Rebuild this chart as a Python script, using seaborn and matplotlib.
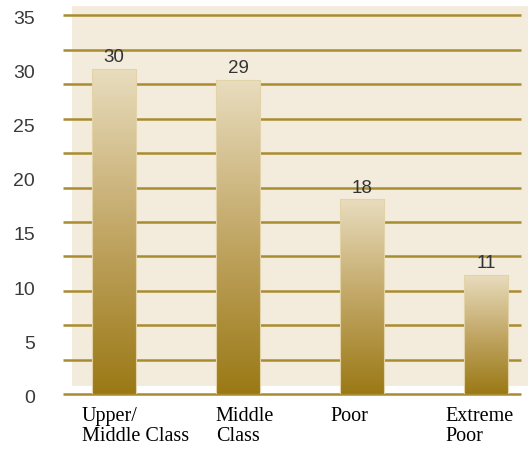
import numpy as np
import pandas as pd
import matplotlib
matplotlib.use("Agg")
import matplotlib.pyplot as plt
from matplotlib.colors import LinearSegmentedColormap
from matplotlib.patches import Rectangle
import seaborn as sns

categories = ["Upper/\nMiddle Class", "Middle\nClass", "Poor", "Extreme\nPoor"]
values = [30, 29, 18, 11]
y_ticks = [0, 5, 10, 15, 20, 25, 30, 35]

df = pd.DataFrame({"group": categories, "share": values})

sns.set_style("white")
plt.rcParams["font.family"] = ["Liberation Sans", "DejaVu Sans"]

fig = plt.figure(figsize=(5.3, 4.55), dpi=100)
ax = fig.add_axes([0.1189, 0.133, 0.8642, 0.834])
ax.set_facecolor("none")
ax.set_zorder(2)

# cream panel behind the plot
fig.patches.append(Rectangle((0.1358, 0.1516), 0.860, 0.835, transform=fig.transFigure,
                             facecolor="#f3ecdc", edgecolor="none", zorder=-1))

sns.barplot(data=df, x="group", y="share", ax=ax, width=0.355, color="#c4aa6a",
            edgecolor="#e2d3a8", linewidth=0.8, zorder=3)

# gradient fill for every bar
cmap = LinearSegmentedColormap.from_list("gold", ["#9a7915", "#c2a766", "#e9ddbf"])
grad = np.linspace(0, 1, 256).reshape(-1, 1)
for bar in ax.patches:
    x0, y0 = bar.get_x(), bar.get_y()
    w, h = bar.get_width(), bar.get_height()
    im = ax.imshow(grad, cmap=cmap, origin="lower", aspect="auto",
                   extent=[x0, x0 + w, y0, y0 + h], zorder=3.5)
    im.set_clip_path(bar)
    bar.set_facecolor("none")
    bar.set_zorder(4)

ax.set_xlim(-0.411, 3.282)
ax.set_ylim(0, 35)

for c in ax.containers:
    ax.bar_label(c, labels=[str(v) for v in values], padding=2, fontsize=13.5, color="#333333", zorder=5)

# grid lines (11 even steps over the axis)
ax.grid(False)
ax.hlines(np.linspace(0, 35, 12), -0.411, 3.282, color="#a98b30", linewidth=1.8,
          zorder=1, clip_on=False)
ax.set_yticks(y_ticks)
ax.tick_params(axis="y", length=0, pad=20, labelsize=14, labelcolor="#3a3a3a")
ax.tick_params(axis="x", length=0, labelbottom=False)
for s in ax.spines.values():
    s.set_visible(False)
ax.set_xlabel("")
ax.set_ylabel("")

# nudge y tick labels slightly down like the reference
shift = matplotlib.transforms.ScaledTranslation(0, -1.5 / 72, fig.dpi_scale_trans)
for lab in ax.get_yticklabels():
    lab.set_transform(lab.get_transform() + shift)

offsets = [-0.258, -0.18, -0.258, -0.33]
trans = matplotlib.transforms.blended_transform_factory(ax.transData, ax.transAxes)
for i, (lab, dx) in enumerate(zip(categories, offsets)):
    ax.text(i + dx, -0.032, lab, transform=trans, ha="left", va="top",
            family=["Liberation Serif", "DejaVu Serif"], fontsize=14.5,
            color="black", linespacing=1.1)

fig.savefig("out.png", dpi=100)
